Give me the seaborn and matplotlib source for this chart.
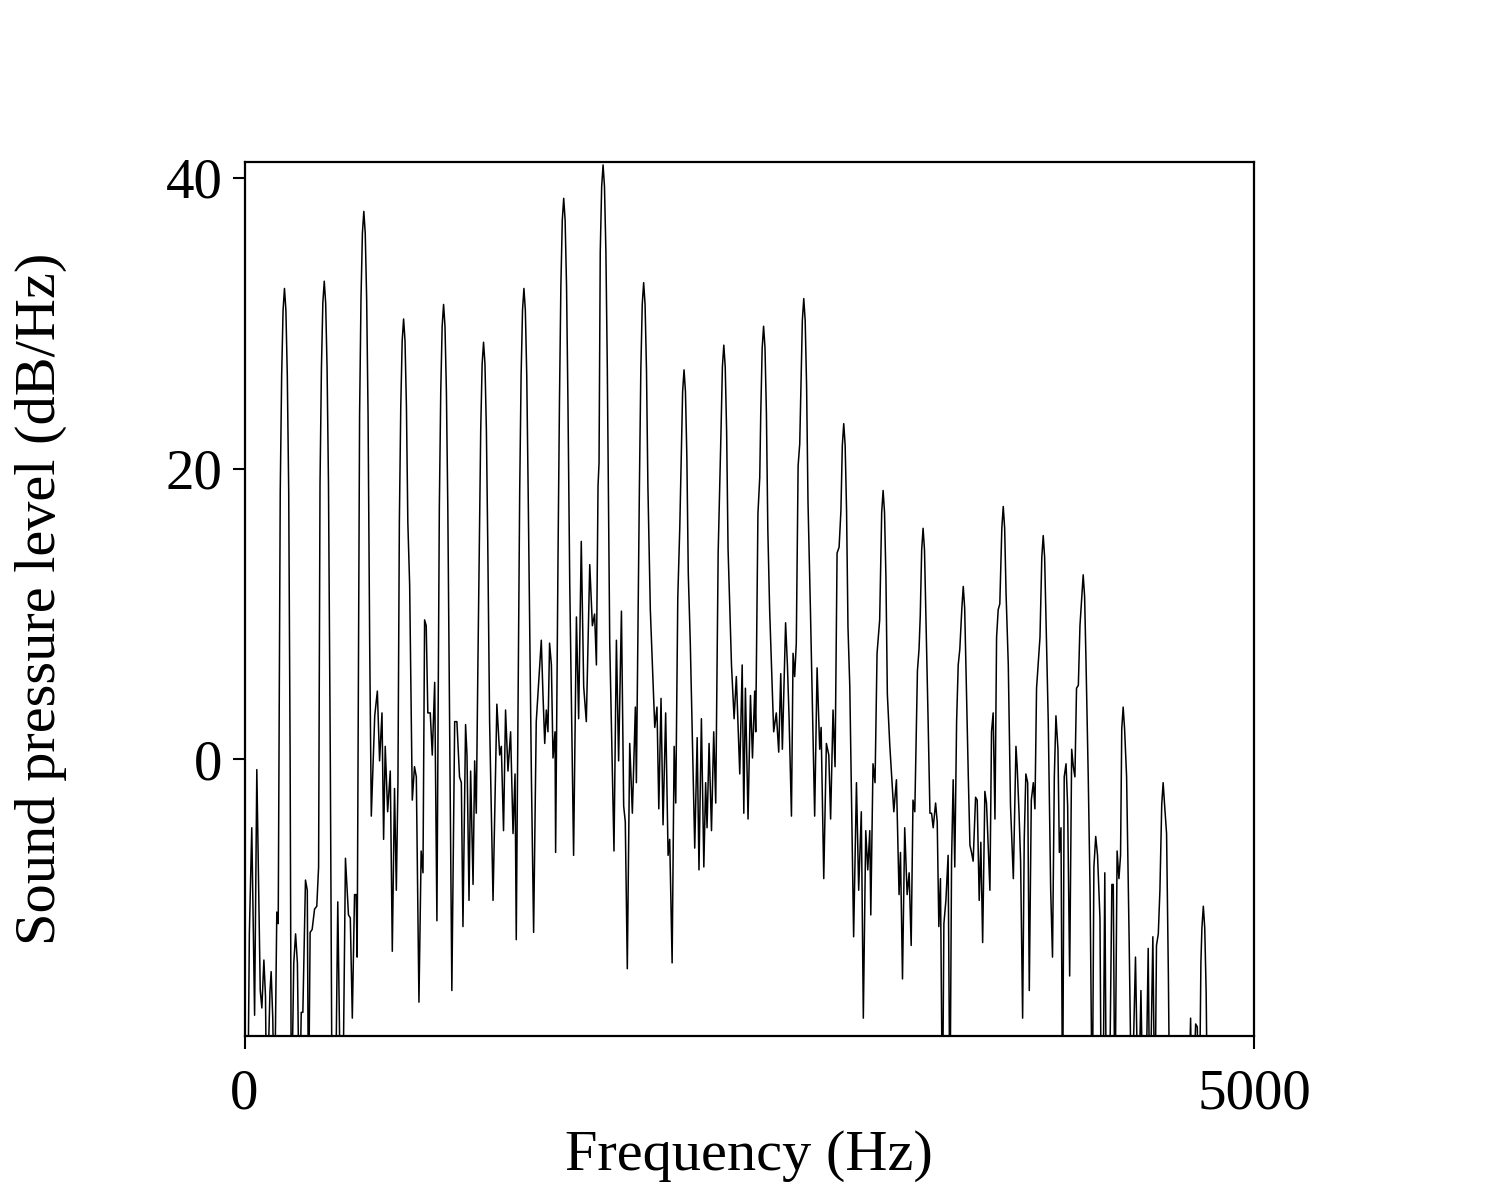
import numpy as np
import matplotlib
matplotlib.use("Agg")
import matplotlib.pyplot as plt
import seaborn as sns

# spectrum (Hz, dB/Hz); -25 = below the plot floor
freq_hz = [
    0, 16, 24, 36, 44, 50, 61, 70, 78, 86, 96, 104, 110, 126, 132, 140, 148, 160, 167,
    177, 184, 191, 198, 205, 212, 219, 226, 232, 244, 253, 262, 272, 281, 289, 302, 311, 317, 325, 335, 347, 358, 367,
    374, 381, 388, 395, 402, 409, 416, 425, 434, 450, 462, 470, 476, 490, 500, 515, 524, 534, 545, 553, 558,
    570, 577, 584, 591, 598, 605, 612, 620, 628, 645, 658, 669, 681, 689, 697, 709, 722, 732, 743, 752, 760,
    767, 774, 781, 788, 795, 802, 809, 818, 831, 842, 851, 864, 875, 884, 892, 900, 908, 920, 930, 942, 953,
    965, 972, 979, 986, 993, 1000, 1007, 1016, 1027, 1041, 1052, 1065, 1074, 1082, 1095, 1102, 1112, 1120, 1132, 1140, 1148, 1156,
    1163, 1170, 1177, 1184, 1191, 1198, 1205, 1214, 1231, 1250, 1264, 1272, 1283, 1293, 1305, 1318, 1330, 1340, 1346,
    1363, 1370, 1377, 1384, 1391, 1398, 1405, 1421, 1432, 1445, 1459, 1470, 1478, 1487, 1495, 1503, 1511, 1520, 1528, 1538, 1541,
    1553, 1560, 1567, 1574, 1581, 1588, 1595, 1602, 1611, 1630, 1644, 1655, 1668, 1680, 1693, 1710, 1723, 1734, 1743, 1751, 1756,
    1762, 1769, 1776, 1783, 1790, 1797, 1809, 1830, 1842, 1853, 1867, 1878, 1886, 1896, 1908, 1921, 1936, 1941,
    1956, 1963, 1970, 1977, 1984, 1991, 1998, 2010, 2032, 2043, 2052, 2063, 2073, 2086, 2098, 2106, 2118, 2128, 2136, 2146,
    2156, 2163, 2170, 2177, 2184, 2191, 2198, 2208, 2230, 2242, 2251, 2263, 2275, 2284, 2291, 2301, 2313, 2324, 2334, 2346,
    2360, 2367, 2374, 2381, 2388, 2395, 2412, 2425, 2436, 2453, 2465, 2473, 2481, 2494, 2506, 2516, 2527, 2532, 2543, 2552,
    2557, 2564, 2571, 2578, 2585, 2592, 2601, 2621, 2634, 2646, 2656, 2664, 2680, 2689, 2697, 2709, 2717, 2725, 2733, 2742, 2750,
    2756, 2763, 2770, 2777, 2784, 2791, 2803, 2824, 2836, 2849, 2856, 2869, 2882, 2894, 2903, 2915, 2925, 2935, 2945,
    2954, 2961, 2968, 2975, 2982, 2989, 2998, 3017, 3031, 3042, 3055, 3065, 3077, 3087, 3097, 3102, 3113, 3123, 3133, 3146,
    3156, 3163, 3170, 3177, 3184, 3196, 3216, 3229, 3242, 3249, 3259, 3270, 3282, 3292, 3302, 3311, 3320, 3333, 3341,
    3347, 3354, 3361, 3368, 3375, 3386, 3395, 3403, 3411, 3423, 3431, 3439, 3447, 3457, 3464, 3474, 3485, 3494, 3502, 3510, 3518, 3527, 3535, 3543,
    3553, 3560, 3567, 3574, 3585, 3593, 3601, 3609, 3621, 3629, 3639, 3647, 3656, 3667, 3675, 3680, 3692, 3700, 3708, 3717, 3725, 3733, 3741,
    3751, 3758, 3765, 3772, 3783, 3794, 3808, 3821, 3827, 3836, 3844, 3854, 3862, 3870, 3879, 3887, 3897, 3907, 3915, 3923, 3931, 3940,
    3949, 3956, 3963, 3970, 3981, 3993, 4002, 4011, 4019, 4029, 4036, 4044, 4052, 4060, 4069, 4077, 4087, 4097, 4105, 4113, 4121, 4130, 4138,
    4147, 4154, 4161, 4168, 4179, 4188, 4199, 4207, 4216, 4225, 4237, 4244, 4252, 4261, 4269, 4283, 4296, 4303, 4311, 4322, 4331, 4339,
    4345, 4352, 4359, 4369, 4382, 4394, 4413, 4427, 4440, 4451, 4463, 4476, 4484, 4499, 4509, 4517, 4526, 4534,
    4543, 4550, 4557, 4567, 4576, 4583, 4674, 4686, 4694, 4711, 4719, 4729, 4737, 4742, 4749, 4756, 4763, 4770, 5000,
]
level_db = [
    -25, -25, -12, -4.7, -12, -17.6, -0.7, -9, -15.9, -17.1, -13.8, -16.3, -25, -16, -14.6, -17.8, -25, -10.5, -11.3,
    18.4, 26.4, 30.9, 32.4, 30.9, 26.4, 18.4, 0, -25, -14, -12, -14, -25, -17.4, -17.4, -8.3, -9, -25, -11.9, -11.7, -10.3, -10.1, -7.4,
    18.9, 26.9, 31.4, 32.9, 31.4, 26.9, 18.9, 0, -25, -25, -9.8, -18, -25, -20, -6.8, -10.7, -10.9, -17.8, -9.3, -9.3, -13.6,
    23.7, 31.7, 36.2, 37.7, 36.2, 31.7, 23.7, 8, -3.9, 3, 4.7, -0.1, 3.2, -5.5, 0.9, -3.6, -0.8, -13.2, -2, -9, -1.6,
    16.3, 24.3, 28.8, 30.3, 28.8, 24.3, 16.3, 12, -2.8, -0.5, -1.2, -16.7, -6.3, -7.8, 9.6, 9.2, 3.2, 3.2, 0.3, 5.3, -11.1,
    17.3, 25.3, 29.8, 31.3, 29.8, 25.3, 17.3, 2.6, -15.9, 2.6, 2.6, -1.2, -1.6, -11.5, 2.4, 0.3, -9.7, -0.8, -8.6, -0.1, -3.7, 6.5,
    14.7, 22.7, 27.2, 28.7, 27.2, 22.7, 14.7, 2.6, -9.7, 3.8, 0.3, 0.9, -4.9, 3.4, -0.8, 1.9, -5.1, -1, -12.4,
    18.4, 26.4, 30.9, 32.4, 30.9, 26.4, 18.4, -1.2, -11.9, 2.6, 5.7, 8.2, 4.6, 1.1, 3.4, 1.9, 8, 6.5, 0.1, 1.9, -6.4,
    14.2, 24.6, 32.6, 37.1, 38.6, 37.1, 32.6, 24.6, 12, -6.6, 9.8, 2.8, 15, 5, 2.6, 13.4, 9.2, 10, 6.5, 18.8, 20.4,
    34.9, 39.4, 40.9, 39.4, 34.9, 26.9, 8, -6.3, 8.2, -0.1, 10.2, -3.2, -4.3, -14.4, 1.1, -3.7, 3.6, -1.6,
    18.8, 26.8, 31.3, 32.8, 31.3, 26.8, 18.8, 10.3, 2.2, 3.6, -3.4, 4.2, -4.5, 3.2, -6.6, -5.5, -14, 0.9, -3, 11.1,
    16, 20.8, 25.3, 26.8, 25.3, 20.8, 12.8, 8, -6.1, 1.5, -7.6, 2.8, -7.4, -1.6, -4.7, 1.1, -4.9, 1.9, -3, 14.2,
    22.5, 27, 28.5, 27, 22.5, 14.5, 6.5, 2.8, 5.7, -1, 6.5, -3.7, 4.9, -4.1, 4.4, 0.1, 4.7, 1.9, 16.9, 19.4,
    23.8, 28.3, 29.8, 28.3, 23.8, 15.8, 10.3, 1.9, 3.2, 0.5, 5.9, 0.7, 9.4, 6.5, 3, -3.9, 7.3, 5.7, 8, 20.2, 21.7,
    25.7, 30.2, 31.7, 30.2, 25.7, 17.7, 10.3, -3.9, 6.3, 0.7, 2.2, -8.2, 1.1, 0.3, -4.1, 3.4, -0.5, 14.2, 14.6,
    17.1, 21.6, 23.1, 21.6, 17.1, 9.1, 5, -12.2, -1.6, -9, -3.6, -17.8, -4.9, -7.6, -4.9, -10.7, -0.3, -1.6, 7.3, 9.6,
    17, 18.5, 17, 12.5, 4.5, 1, -3.6, -1.4, -9.3, -6.4, -15.1, -4.7, -9.3, -7.8, -12.8, -2.8, -3.6, 6.1, 7.6,
    9.9, 14.4, 15.9, 14.4, 9.9, 2.6, -3.7, -3.7, -4.7, -3, -4.3, -11.5, -8.2, -25, -11.3, -9.7, -6.6, -25, -7, -1.4, -7.4, 2.6, 6.5, 7.6,
    10.4, 11.9, 10.4, 5.9, -1.2, -5.9, -6.4, -7, -2.6, -2.8, -9.7, -5.7, -12.6, -2.2, -3, -4.7, -9, 1.9, 3.2, -4.1, 8.4, 10.3, 10.7,
    15.9, 17.4, 15.9, 11.4, 6.5, -3.2, -8.2, 0.9, -0.5, -3.6, -7, -17.8, -5.5, -1, -1.6, -15.9, -2.8, -1.6, -3.4, 4.9, 6.5, 8.4,
    13.9, 15.4, 13.9, 9.4, 2.6, -9, -13.6, -1.2, 3, 0.7, -6.4, -4.7, -25, -1.2, -0.3, -3.2, -14.9, 0.7, -0.5, -1.2, 4.9, 5.1, 9.2,
    11.2, 12.7, 11.2, 6.7, -1.2, -9, -25, -7.4, -5.3, -6.6, -10.9, -25, -25, -7.8, -25, -25, -8.6, -8.6, -25, -6.3, -8.2, -6.6,
    2.1, 3.6, 2.1, -1.2, -12.8, -25, -13.6, -25, -15.9, -25, -25, -13, -25, -12.2, -25, -12.8, -12, -9,
    -3.1, -1.6, -3.1, -5.1, -15, -25, -25, -17.8, -25, -18.2, -18.4, -25, -14, -11.6, -10.1, -11.6, -16, -25, -25,
]

x_ticks = [0, 5000]
y_ticks = [0, 20, 40]

sns.set_theme(style="ticks")
plt.rcParams['font.family'] = ['Liberation Serif', 'DejaVu Serif']
plt.rcParams['text.color'] = 'black'
plt.rcParams['axes.labelcolor'] = 'black'

fig = plt.figure(figsize=(15, 12), dpi=100)
ax = fig.add_axes([0.163, 0.137, 0.673, 0.728])

sns.lineplot(x=np.array(freq_hz), y=np.array(level_db), estimator=None, sort=False,
             color='black', linewidth=1.1, ax=ax)

ax.set_xlim(0, 5000)
ax.set_ylim(-19, 41.1)
ax.set_xticks(x_ticks)
ax.set_yticks(y_ticks)
ax.set_xticklabels([str(t) for t in x_ticks])
ax.set_yticklabels([str(t) for t in y_ticks])
ax.tick_params(direction='out', length=9, width=1.5, labelsize=41, colors='black', pad=7)
ax.tick_params(axis='x', pad=15)
for s in ax.spines.values():
    s.set_linewidth(1.6)
    s.set_color('black')

ax.set_xlabel("Frequency (Hz)", fontsize=42, color='black')
ax.set_ylabel("Sound pressure level (dB/Hz)", fontsize=42, color='black')
ax.xaxis.set_label_coords(0.5, -0.108)
ax.yaxis.set_label_coords(-0.176, 0.5)

fig.savefig("out.png", dpi=100)
